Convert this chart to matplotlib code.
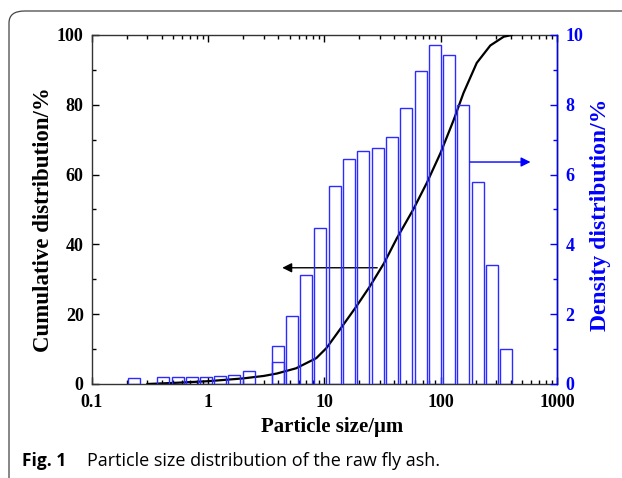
#! /usr/bin/env python3

"""
Particle size distribution of raw fly ash: density bars + cumulative curve.
"""

import numpy as np
import matplotlib
matplotlib.use('Agg')
import matplotlib.pyplot as plt
from matplotlib.patches import FancyBboxPatch

# density distribution (bin centres in um, %)
bin_sizes = [0.23, 0.41, 0.55, 0.72, 0.96, 1.27, 1.68, 2.25, 3.96, 5.22,
             6.93, 9.2, 12.2, 16.3, 21.6, 28.6, 37.8, 50.2, 67.0, 88.9,
             117.8, 156, 208, 276, 366]
density = [0.16, 0.19, 0.21, 0.21, 0.21, 0.23, 0.27, 0.38, 1.10, 1.94,
           3.12, 4.48, 5.68, 6.44, 6.68, 6.75, 7.09, 7.90, 8.98, 9.70,
           9.44, 7.98, 5.78, 3.41, 1.01]
# second (overlapping) bar seen at ~4 um
extra_sizes = [3.96]
extra_density = [0.62]

# cumulative distribution (um, %)
cum_sizes = [0.3, 0.5, 1.0, 2.0, 3.0, 3.9, 5.7, 8.5, 10.4, 13.5, 18.6, 24.6,
             32.5, 42, 58, 75.8, 99, 129, 157, 204, 267, 348, 408]
cumulative = [0, 0.3, 0.8, 1.6, 2.3, 3.0, 4.5, 7.4, 10.3, 15.5, 22, 28,
              34.6, 41.8, 50, 57.6, 66, 75.6, 83.4, 92, 97, 99.5, 100]

plt.rcParams['font.family'] = ['Liberation Serif', 'DejaVu Serif']
plt.rcParams['font.weight'] = 'bold'

fig = plt.figure(figsize=(6.22, 4.78), dpi=100)
ax = fig.add_axes([0.1479, 0.1967, 0.7476, 0.7301])
ax2 = ax.twinx()

# journal box round the figure
box = FancyBboxPatch((9 / 622, -0.2), 1.2, 1 - 11 / 478 + 0.2,
                     boxstyle='round,pad=0,rounding_size=0.025',
                     transform=fig.transFigure, facecolor='none',
                     edgecolor='#444444', linewidth=0.9, zorder=-5)
fig.patches.append(box)

half = 10 ** 0.0515
def draw_bars(sizes, values):
    sizes = np.array(sizes)
    ax2.bar(sizes / half, values, width=sizes * half - sizes / half,
            align='edge', facecolor='none', edgecolor='#2b2bff',
            linewidth=1.0)

draw_bars(bin_sizes, density)
draw_bars(extra_sizes, extra_density)

ax.plot(cum_sizes, cumulative, color='black', linewidth=1.6, zorder=5)

ax.set_xscale('log')
ax.set_xlim(0.1, 1000)
ax.set_ylim(0, 100)
ax2.set_ylim(0, 10)
ax.set_yticks(range(0, 101, 20))
ax.set_yticks(range(0, 101, 10), minor=True)
ax2.set_yticks(range(0, 11, 2))
ax2.set_yticks(range(0, 11, 1), minor=True)
ax.set_xticks([0.1, 1, 10, 100, 1000])
ax.set_xticklabels(['0.1', '1', '10', '100', '1000'])

ax.tick_params(which='both', direction='in', top=True, labelsize=13,
               width=1.0)
ax.tick_params(axis='x', which='both', pad=7)
ax.tick_params(axis='y', which='both', pad=6)
ax.tick_params(which='major', length=5)
ax.tick_params(which='minor', length=3)
ax2.tick_params(which='both', direction='in', colors='blue', labelsize=13,
                width=1.0, pad=6)
ax2.tick_params(which='major', length=5)
ax2.tick_params(which='minor', length=3)
ax2.spines['right'].set_color('blue')
for s in ['left', 'top', 'bottom']:
    ax.spines[s].set_color('#333333')
    ax2.spines[s].set_visible(False)
for s in ax.spines.values():
    s.set_linewidth(1.0)
ax2.spines['right'].set_linewidth(1.0)

ax.set_xlabel('Particle size/\u03bcm', fontsize=15, fontweight='bold')
ax.set_ylabel('Cumulative distribution/%', fontsize=16.5, fontweight='bold')
ax2.set_ylabel('Density distribution/%', fontsize=17, fontweight='bold',
               color='blue')
ax.xaxis.set_label_coords(0.517, -0.095)
ax.yaxis.set_label_coords(-0.082, 0.47)
ax2.yaxis.set_label_coords(1.071, 0.486)

# arrows pointing to the matching axis
ax.annotate('', xy=(4.1, 33.3), xytext=(30, 33.3),
            arrowprops=dict(arrowstyle='-|>', color='black', lw=1.0,
                            mutation_scale=14))
ax2.annotate('', xy=(625, 6.36), xytext=(170, 6.36),
             arrowprops=dict(arrowstyle='-|>', color='blue', lw=1.0,
                             mutation_scale=14))

fig.text(22 / 622, 1 - 466 / 478, 'Fig. 1', family='Open Sans',
         fontweight='bold', fontsize=12.5, va='baseline')
fig.text(87 / 622, 1 - 466 / 478,
         'Particle size distribution of the raw fly ash.',
         family='Open Sans', fontweight='normal', fontsize=13.0,
         va='baseline')

fig.savefig('out.png', dpi=100)
